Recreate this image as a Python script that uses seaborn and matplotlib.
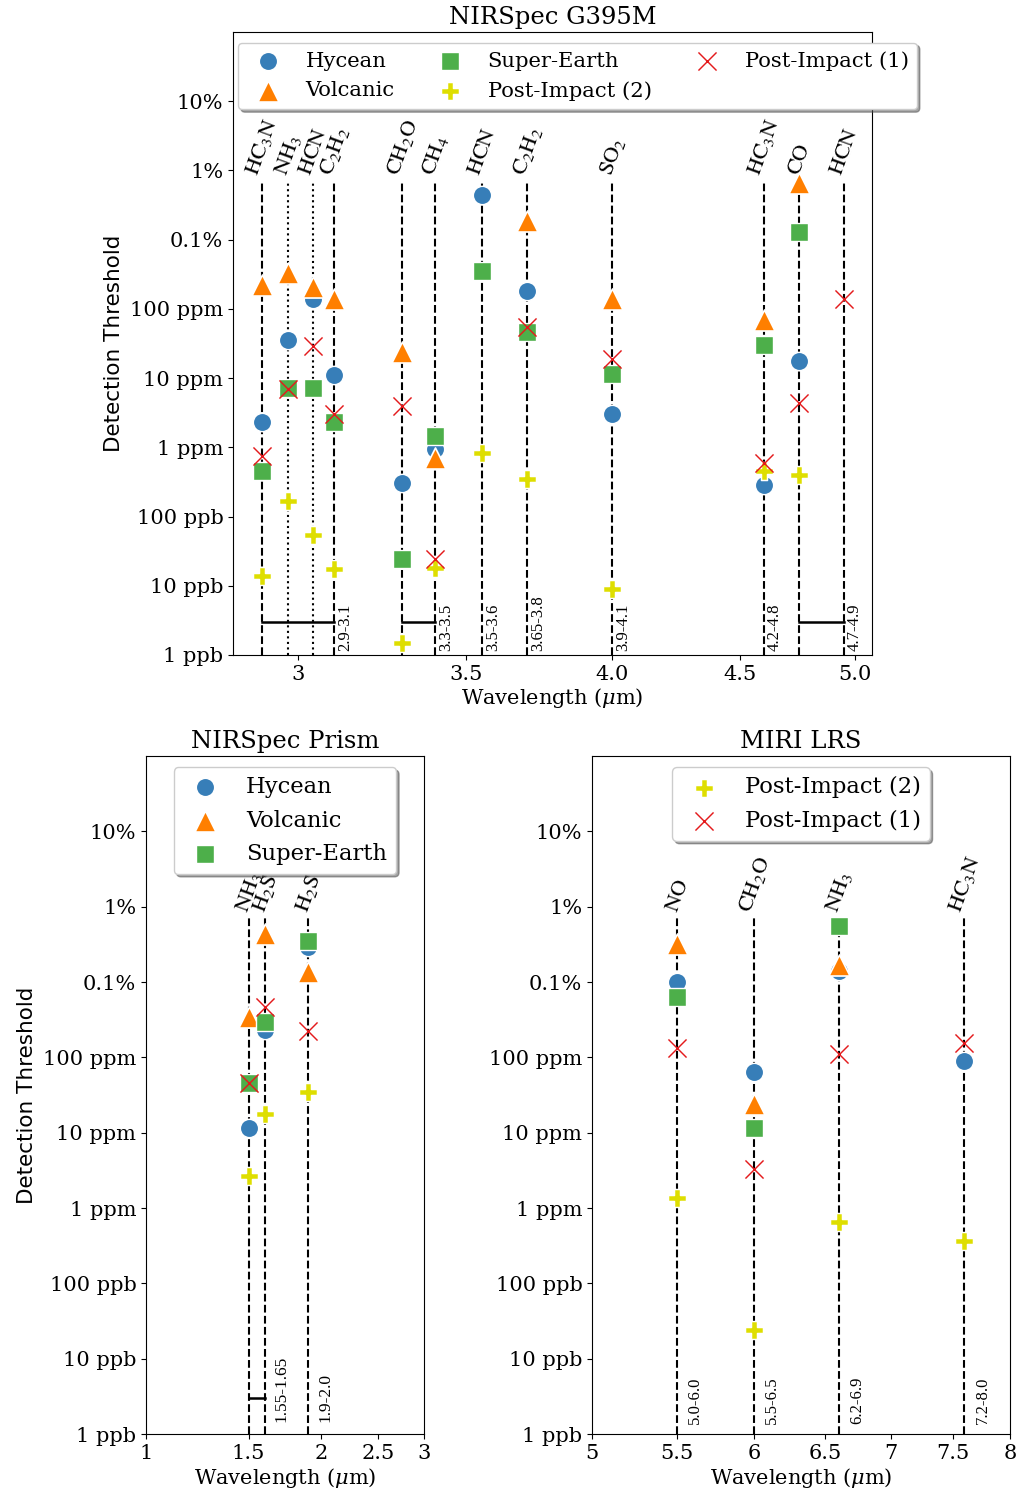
import numpy as np
import pandas as pd
import matplotlib
matplotlib.use("Agg")
import matplotlib.pyplot as plt
from matplotlib.ticker import NullLocator
import seaborn as sns

nan = np.nan

# ---------------- data ----------------
scenarios = ["Hycean", "Volcanic", "Super-Earth", "Post-Impact (2)", "Post-Impact (1)"]
colors = ["#377eb8", "#ff7f00", "#4daf4a", "#dede00", "#e41a1c"]
markers = ["o", "^", "s", "P", "x"]
marker_sizes = [175, 230, 155, 180, 170]

ytick_vals = [1e-9, 1e-8, 1e-7, 1e-6, 1e-5, 1e-4, 1e-3, 1e-2, 1e-1]
ytick_labels = ["1 ppb", "10 ppb", "100 ppb", "1 ppm", "10 ppm", "100 ppm", "0.1%", "1%", "10%"]

# NIRSpec G395M
g395_wl = [2.9, 2.97, 3.04, 3.1, 3.3, 3.4, 3.55, 3.7, 4.0, 4.6, 4.75, 4.95]
g395_mol = ["HC_3N", "NH_3", "HCN", "C_2H_2", "CH_2O", "CH_4", "HCN",
            "C_2H_2", "SO_2", "HC_3N", "CO", "HCN"]
g395_ls = ["--", ":", ":", "--", "--", "--", "--", "--", "--", "--", "--", "--"]
g395_hycean = [2.3e-6, 3.6e-5, 1.37e-4, 1.1e-5, 3.1e-7, 9.5e-7, 4.4e-3, 1.8e-4, 3.0e-6, 2.9e-7, 1.75e-5, nan]
g395_volcanic = [2.2e-4, 3.3e-4, 2.1e-4, 1.4e-4, 2.35e-5, 7.1e-7, nan, 1.85e-3, 1.4e-4, 6.8e-5, 6.5e-3, nan]
g395_superearth = [4.5e-7, 7.1e-6, 7.1e-6, 2.3e-6, 2.45e-8, 1.45e-6, 3.5e-4, 4.6e-5, 1.15e-5, 3.0e-5, 1.3e-3, nan]
g395_pi2 = [1.4e-8, 1.7e-7, 5.5e-8, 1.75e-8, 1.5e-9, 1.8e-8, 8.4e-7, 3.5e-7, 9.0e-9, 4.5e-7, 4.0e-7, nan]
g395_pi1 = [7.6e-7, 7.0e-6, 2.9e-5, 3.0e-6, 4.0e-6, 2.4e-8, nan, 5.4e-5, 1.9e-5, 6.0e-7, 4.4e-6, 1.4e-4]
g395_range_wl = [3.1, 3.4, 3.55, 3.7, 4.0, 4.6, 4.95]
g395_range_txt = ["2.9-3.1", "3.3-3.5", "3.5-3.6", "3.65-3.8", "3.9-4.1", "4.2-4.8", "4.7-4.9"]
g395_brackets = [(2.9, 3.1), (3.3, 3.4), (4.75, 4.95)]
g395_xticks = [3, 3.5, 4.0, 4.5, 5.0]
g395_xticklabels = ["3", "3.5", "4.0", "4.5", "5.0"]

# NIRSpec Prism
prism_wl = [1.5, 1.6, 1.9]
prism_mol = ["NH_3", "H_2S", "H_2S"]
prism_ls = ["--", "--", "--"]
prism_hycean = [1.15e-5, 2.3e-4, 2.9e-3]
prism_volcanic = [3.45e-4, 4.4e-3, 1.37e-3]
prism_superearth = [4.6e-5, 2.9e-4, 3.55e-3]
prism_pi2 = [2.65e-6, 1.77e-5, 3.5e-5]
prism_pi1 = [4.5e-5, 4.7e-4, 2.25e-4]
prism_range_wl = [1.6, 1.9]
prism_range_txt = ["1.55-1.65", "1.9-2.0"]
prism_brackets = [(1.5, 1.6)]
prism_xticks = [1, 1.5, 2, 2.5, 3]
prism_xticklabels = ["1", "1.5", "2", "2.5", "3"]

# MIRI LRS
miri_wl = [5.5, 6.0, 6.6, 7.6]
miri_mol = ["NO", "CH_2O", "NH_3", "HC_3N"]
miri_ls = ["--", "--", "--", "--"]
miri_hycean = [1.0e-3, 6.4e-5, 1.42e-3, 9.0e-5]
miri_volcanic = [3.15e-3, 2.4e-5, 1.7e-3, nan]
miri_superearth = [6.4e-4, 1.15e-5, 5.6e-3, nan]
miri_pi2 = [1.35e-6, 2.4e-8, 6.6e-7, 3.6e-7]
miri_pi1 = [1.34e-4, 3.3e-6, 1.1e-4, 1.55e-4]
miri_range_wl = [5.5, 6.0, 6.6, 7.6]
miri_range_txt = ["5.0-6.0", "5.5-6.5", "6.2-6.9", "7.2-8.0"]
miri_brackets = []
miri_xticks = [5, 5.5, 6, 6.5, 7, 7.5, 8]
miri_xticklabels = ["5", "5.5", "6", "6.5", "7", "7.5", "8"]

# ---------------- style ----------------
plt.rcParams["font.family"] = ["DejaVu Serif"]
plt.rcParams["mathtext.fontset"] = "dejavuserif"

LINE_TOP = 7e-3
LABEL_Y = 7.8e-3


def make_df(wl, series):
    rows = []
    for name, vals in zip(scenarios, series):
        for w, v in zip(wl, vals):
            rows.append({"wl": w, "value": v, "scenario": name})
    return pd.DataFrame(rows).dropna()


def draw_panel(ax, wl, mols, lss, series, range_wl, range_txt, brackets,
               xticks, xticklabels, xlim, title, legend_names, legend_kw,
               range_off, range_fs, legend_fs):
    for w, ls in zip(wl, lss):
        ax.vlines(w, 1e-9, LINE_TOP, colors="k", linestyles=ls, lw=1.5, zorder=1)
    for w, m in zip(wl, mols):
        ax.text(w, LABEL_Y, r"$\mathrm{" + m + "}$", rotation=70, ha="center",
                va="bottom", fontsize=16, math_fontfamily="stix")
    for a, b in brackets:
        ax.plot([a, b], [3e-9, 3e-9], color="k", lw=1.8, zorder=1)
    for w, t in zip(range_wl, range_txt):
        ax.annotate(t, xy=(w, 1e-9), xytext=range_off, textcoords="offset points",
                    rotation=90, ha="center", va="bottom", fontsize=range_fs,
                    family="Liberation Serif")
    df = make_df(wl, series)
    for name, c, mk, sz in zip(scenarios, colors, markers, marker_sizes):
        sub = df[df["scenario"] == name]
        sns.scatterplot(data=sub, x="wl", y="value", ax=ax, color=c, marker=mk,
                        s=sz, label=name, legend=False, zorder=3)
    ax.set_xscale("log")
    ax.set_yscale("log")
    ax.set_xlim(*xlim)
    ax.set_ylim(1e-9, 1)
    ax.set_xticks(xticks)
    ax.set_xticklabels(xticklabels)
    ax.set_yticks(ytick_vals)
    ax.set_yticklabels(ytick_labels)
    ax.xaxis.set_minor_locator(NullLocator())
    ax.yaxis.set_minor_locator(NullLocator())
    ax.tick_params(labelsize=15)
    ax.set_xlabel(r"Wavelength ($\mu$m)", fontsize=15, labelpad=2)
    ax.set_ylabel("Detection Threshold", fontsize=15.5, family="DejaVu Sans")
    ax.set_title(title, fontsize=17.5)
    h, l = ax.get_legend_handles_labels()
    hmap = dict(zip(l, h))
    ax.legend([hmap[n] for n in legend_names], legend_names, fontsize=legend_fs,
              shadow=True, scatterpoints=1, **legend_kw)


fig = plt.figure(figsize=(10.17, 14.95), dpi=100)
ax_top = fig.add_axes([233 / 1017, 1 - 655 / 1495, 639 / 1017, 623 / 1495])
ax_bl = fig.add_axes([146 / 1017, 1 - 1434 / 1495, 278 / 1017, 678 / 1495])
ax_br = fig.add_axes([592 / 1017, 1 - 1434 / 1495, 418 / 1017, 678 / 1495])

draw_panel(ax_top, g395_wl, g395_mol, g395_ls,
           [g395_hycean, g395_volcanic, g395_superearth, g395_pi2, g395_pi1],
           g395_range_wl, g395_range_txt, g395_brackets,
           g395_xticks, g395_xticklabels, (2.825, 5.08), "NIRSpec G395M",
           scenarios, dict(ncol=3, loc="upper left", bbox_to_anchor=(0.008, 0.983),
                           borderaxespad=0, columnspacing=1.6), (8, 3), 12, 15.2)
draw_panel(ax_bl, prism_wl, prism_mol, prism_ls,
           [prism_hycean, prism_volcanic, prism_superearth, prism_pi2, prism_pi1],
           prism_range_wl, prism_range_txt, prism_brackets,
           prism_xticks, prism_xticklabels, (1, 3), "NIRSpec Prism",
           ["Hycean", "Volcanic", "Super-Earth"], dict(loc="upper center"), (12, 9), 12.5, 16.3)
draw_panel(ax_br, miri_wl, miri_mol, miri_ls,
           [miri_hycean, miri_volcanic, miri_superearth, miri_pi2, miri_pi1],
           miri_range_wl, miri_range_txt, miri_brackets,
           miri_xticks, miri_xticklabels, (5, 8), "MIRI LRS",
           ["Post-Impact (2)", "Post-Impact (1)"], dict(loc="upper center"), (13, 7), 12, 16.3)
ax_br.set_ylabel("")

fig.savefig("out.png", dpi=100)
